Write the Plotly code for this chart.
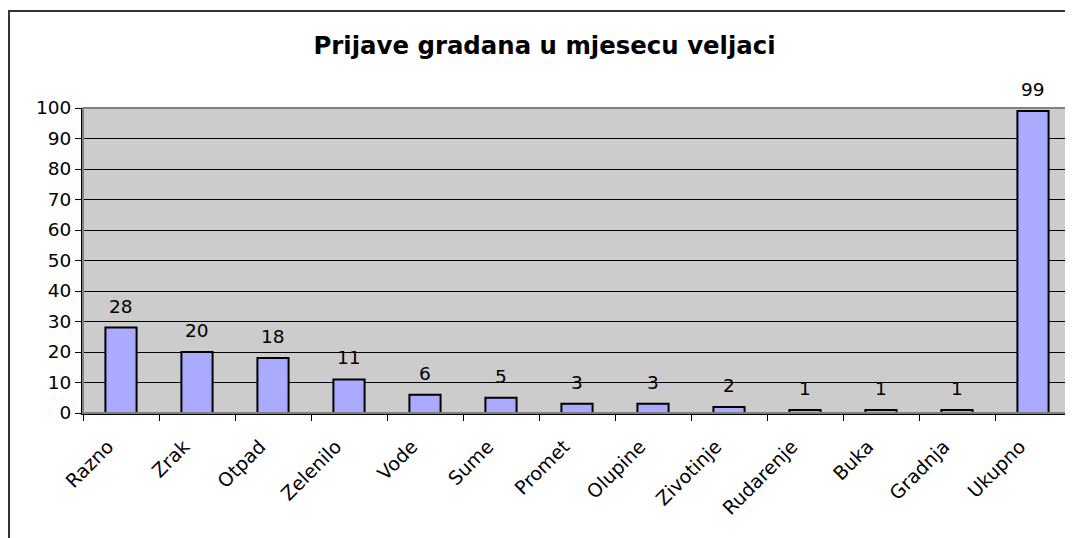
import plotly.graph_objects as go

# Prijave građana po kategorijama (veljača)
KATEGORIJE = ["Razno", "Zrak", "Otpad", "Zelenilo", "Vode", "Sume", "Promet",
              "Olupine", "Zivotinje", "Rudarenje", "Buka", "Gradnja", "Ukupno"]
PRIJAVE = [28, 20, 18, 11, 6, 5, 3, 3, 2, 1, 1, 1, 99]
Y_TICKS = list(range(0, 101, 10))

FONT = "DejaVu Sans, Verdana, sans-serif"

fig = go.Figure()
fig.add_trace(
    go.Bar(
        x=KATEGORIJE,
        y=PRIJAVE,
        marker=dict(color="#AAAAFF", line=dict(color="black", width=2)),
        width=0.41,
        hoverinfo="x+y",
    )
)

# oznake vrijednosti iznad stupaca
for kat, val in zip(KATEGORIJE, PRIJAVE):
    fig.add_annotation(
        x=kat, y=val, text=str(val),
        showarrow=False, yanchor="bottom", yshift=9,
        font=dict(family=FONT, size=18.5, color="black"),
    )

# rub plot područja (sivi) i vanjski okvir grafikona
fig.add_shape(type="rect", xref="paper", yref="paper", x0=0, y0=0, x1=1, y1=1,
              line=dict(color="#808080", width=2), layer="above")
fig.add_shape(type="path", xref="paper", yref="paper",
              path="M -0.0749,-0.5 L -0.0749,1.318 L 1.2,1.318",
              line=dict(color="#333333", width=2))

fig.update_layout(
    width=1073,
    height=538,
    margin=dict(l=75, r=10, t=100, b=133),
    paper_bgcolor="white",
    plot_bgcolor="#CCCCCC",
    showlegend=False,
    font=dict(family=FONT, size=18.5, color="black"),
    title=dict(
        text="<b>Prijave gradana u mjesecu veljaci</b>",
        x=0.5, xref="container", xanchor="center",
        y=0.931, yanchor="middle",
        font=dict(family=FONT, size=24.4, color="black"),
    ),
    xaxis=dict(
        tickangle=-45,
        showgrid=False,
        showline=True,
        linecolor="black",
        linewidth=2,
        ticks="outside",
        tickson="boundaries",
        ticklen=6,
        tickcolor="black",
        tickfont=dict(size=19),
        ticklabelstandoff=13,
        ticklabelshift=-13,
    ),
    yaxis=dict(
        range=[0, 100],
        tickvals=Y_TICKS,
        showgrid=True,
        gridcolor="black",
        gridwidth=1,
        zeroline=False,
        showline=True,
        linecolor="black",
        linewidth=2,
        ticks="outside",
        ticklen=6,
        tickcolor="black",
        tickfont=dict(size=18.5),
    ),
)

fig.write_html("out.html")
